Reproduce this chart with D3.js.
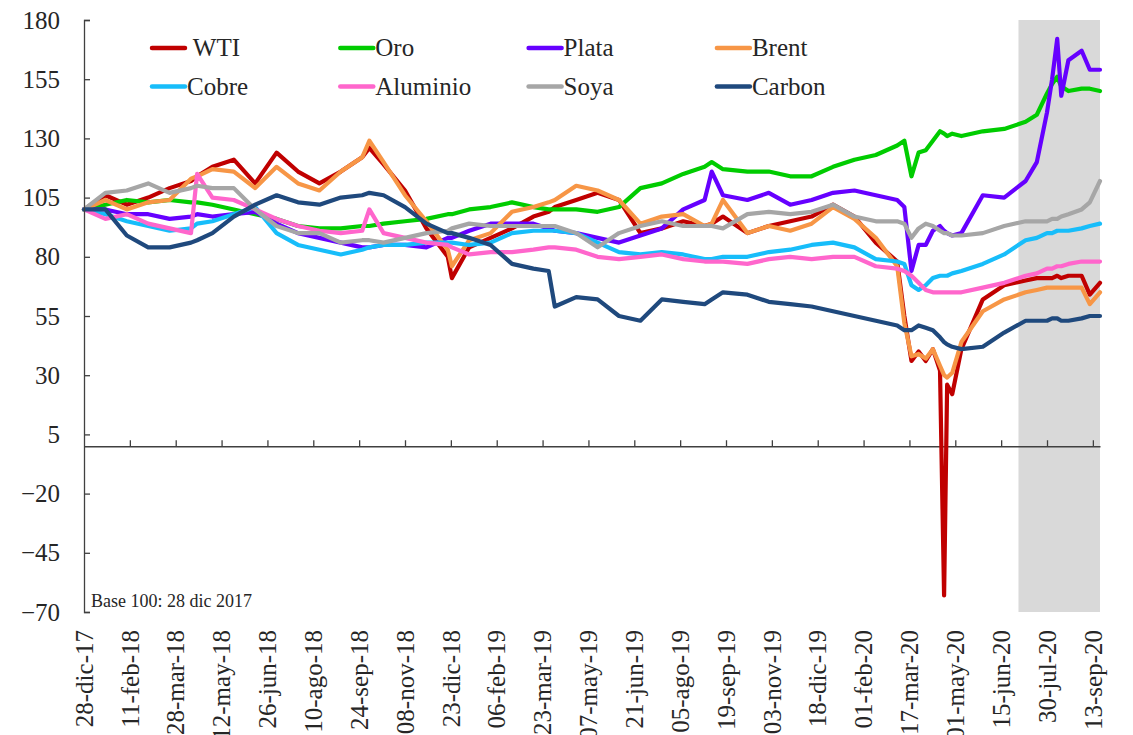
<!DOCTYPE html>
<html>
<head>
<meta charset="utf-8">
<script src="https://cdn.jsdelivr.net/npm/d3@7"></script>
<style>
    body { margin: 0; background: #fff; }
    #commodity-chart svg { font-family: "Liberation Serif", "Times New Roman", serif; }
</style>
</head>
<body>
<div id="commodity-chart"></div>
<script>
// sample dates (same for every series)
var dates = [
    "2017-12-28", "2018-01-18", "2018-02-08", "2018-03-01", "2018-03-22", "2018-04-12", "2018-04-18", "2018-05-03", "2018-05-24", "2018-06-14",
    "2018-07-05", "2018-07-26", "2018-08-16", "2018-09-06", "2018-09-27", "2018-10-04", "2018-10-18", "2018-11-08", "2018-11-29", "2018-12-20",
    "2018-12-24", "2019-01-10", "2019-01-31", "2019-02-21", "2019-03-14", "2019-03-29", "2019-04-04", "2019-04-25", "2019-05-16", "2019-06-06",
    "2019-06-27", "2019-07-18", "2019-08-08", "2019-08-29", "2019-09-05", "2019-09-16", "2019-10-10", "2019-10-31", "2019-11-21", "2019-12-12",
    "2020-01-02", "2020-01-23", "2020-02-13", "2020-03-05", "2020-03-12", "2020-03-19", "2020-03-26", "2020-04-02", "2020-04-09", "2020-04-16",
    "2020-04-20", "2020-04-23", "2020-04-28", "2020-05-07", "2020-05-28", "2020-06-18", "2020-07-09", "2020-07-20", "2020-07-30", "2020-08-04",
    "2020-08-09", "2020-08-13", "2020-08-20", "2020-09-02", "2020-09-10", "2020-09-20"
];

var wti = [
    100, 106, 102, 105, 109, 112, 114, 118, 121, 111,
    124, 116, 111, 116, 122, 126, 119, 108, 92, 80,
    71, 84, 88, 92, 97, 99, 101, 104, 107, 104,
    90, 92, 95, 93, 94, 97, 90, 93, 95, 97,
    102, 97, 86, 78, 55, 36, 40, 36, 41, 32,
    -63, 26, 22, 41, 62, 68, 70, 71, 71, 71,
    72, 71, 72, 72, 64, 69
];
var oro = [
    100, 102, 104, 103, 104, 103, 103, 102, 100, 98,
    96, 93, 92, 92, 93, 93, 94, 95, 96, 98,
    98, 100, 101, 103, 101, 100, 100, 100, 99, 101,
    109, 111, 115, 118, 120, 117, 116, 116, 114, 114,
    118, 121, 123, 127, 129, 114, 124, 125, 129, 133,
    132, 131, 132, 131, 133, 134, 137, 140, 149, 153,
    156, 152, 150, 151, 151, 150
];
var plata = [
    100, 100, 98, 98, 96, 97, 98, 97, 98, 99,
    94, 90, 88, 86, 84, 84, 85, 85, 84, 88,
    88, 91, 94, 94, 94, 92, 91, 90, 88, 86,
    89, 92, 100, 104, 116, 106, 104, 107, 102, 104,
    107, 108, 106, 104, 101, 74, 85, 85, 91, 93,
    91, 90, 89, 90, 106, 105, 112, 120, 141, 155,
    172, 148, 163, 167, 159, 159
];
var brent = [
    100, 104, 100, 103, 104, 113, 114, 117, 116, 109,
    118, 111, 108, 116, 122, 129, 120, 106, 95, 83,
    76, 87, 90, 99, 101, 103, 104, 110, 108, 104,
    94, 97, 98, 93, 94, 104, 90, 93, 91, 94,
    101, 96, 88, 76, 52, 38, 39, 37, 41, 34,
    30, 29, 31, 44, 57, 62, 65, 66, 67, 67,
    67, 67, 67, 67, 60, 65
];
var cobre = [
    100, 98, 95, 93, 91, 92, 94, 95, 98, 101,
    90, 85, 83, 81, 83, 84, 85, 85, 86, 86,
    86, 85, 86, 90, 91, 91, 91, 90, 86, 82,
    81, 82, 81, 79, 79, 80, 80, 82, 83, 85,
    86, 84, 79, 78, 77, 68, 66, 68, 71, 72,
    72, 72, 73, 74, 77, 81, 87, 88, 90, 90,
    91, 91, 91, 92, 93, 94
];
var aluminio = [
    100, 96, 98, 94, 92, 90, 115, 105, 104, 100,
    96, 93, 91, 90, 91, 100, 90, 88, 86, 85,
    84, 81, 82, 82, 83, 84, 84, 83, 80, 79,
    80, 81, 79, 78, 78, 78, 77, 79, 80, 79,
    80, 80, 76, 75, 74, 72, 69, 66, 65, 65,
    65, 65, 65, 65, 67, 69, 72, 73, 75, 75,
    76, 76, 77, 78, 78, 78
];
var soya = [
    100, 107, 108, 111, 107, 109, 110, 109, 109, 100,
    93, 90, 90, 86, 87, 87, 86, 88, 90, 91,
    92, 94, 93, 93, 93, 93, 93, 90, 84, 90,
    93, 95, 93, 93, 93, 92, 98, 99, 98, 99,
    102, 97, 95, 95, 94, 88, 92, 94, 93, 91,
    90, 90, 89, 89, 90, 93, 95, 95, 95, 96,
    96, 97, 98, 100, 103, 112
];
var carbon = [
    100, 100, 89, 84, 84, 86, 87, 90, 97, 102,
    106, 103, 102, 105, 106, 107, 106, 101, 94, 90,
    90, 88, 85, 77, 75, 74, 59, 63, 62, 55,
    53, 62, 61, 60, 62, 65, 64, 61, 60, 59,
    57, 55, 53, 51, 49, 49, 51, 50, 49, 46,
    44, 43, 42, 41, 42, 48, 53, 53, 53, 54,
    54, 53, 53, 54, 55, 55
];

var series_names = ["WTI", "Oro", "Plata", "Brent", "Cobre", "Aluminio", "Soya", "Carbon"];
var series_values = [wti, oro, plata, brent, cobre, aluminio, soya, carbon];
var series_colours = ["#C00000", "#00CC00", "#6600FF", "#F79646", "#17BDFA", "#FF66CC", "#A6A6A6", "#1F497D"];

var y_ticks = [-70, -45, -20, 5, 30, 55, 80, 105, 130, 155, 180];
var x_tick_dates = [
    "2017-12-28", "2018-02-11", "2018-03-28", "2018-05-12", "2018-06-26", "2018-08-10", "2018-09-24", "2018-11-08",
    "2018-12-23", "2019-02-06", "2019-03-23", "2019-05-07", "2019-06-21", "2019-08-05", "2019-09-19", "2019-11-03",
    "2019-12-18", "2020-02-01", "2020-03-17", "2020-05-01", "2020-06-15", "2020-07-30", "2020-09-13"
];
var x_tick_labels = [
    "28-dic-17", "11-feb-18", "28-mar-18", "12-may-18", "26-jun-18", "10-ago-18", "24-sep-18", "08-nov-18",
    "23-dic-18", "06-feb-19", "23-mar-19", "07-may-19", "21-jun-19", "05-ago-19", "19-sep-19", "03-nov-19",
    "18-dic-19", "01-feb-20", "17-mar-20", "01-may-20", "15-jun-20", "30-jul-20", "13-sep-20"
];
var shade_from = "2020-07-02";
var base_note = "Base 100: 28 dic 2017";

function commodities_chart() {
    var width = 1133, height = 735;
    var plot = { left: 84, right: 1100, top: 20, bottom: 612 };
    var parse = d3.timeParse("%Y-%m-%d");

    var svg = d3.select("#commodity-chart")
        .append("svg")
        .attr("width", width)
        .attr("height", height);

    var x = d3.scaleTime()
        .domain([parse(dates[0]), parse(dates[dates.length - 1])])
        .range([plot.left, plot.right]);

    var y = d3.scaleLinear()
        .domain([-70, 180])
        .range([plot.bottom, plot.top]);

    // grey band for the latest period
    svg.append("rect")
        .attr("x", x(parse(shade_from)))
        .attr("y", y(180))
        .attr("width", x(parse(dates[dates.length - 1])) - x(parse(shade_from)))
        .attr("height", y(-70) - y(180))
        .style("fill", "#D9D9D9");

    // zero line with upward ticks
    var tick_dates = x_tick_dates.map(parse);
    svg.append("g")
        .attr("transform", "translate(0," + y(0) + ")")
        .call(d3.axisTop(x).tickValues(tick_dates.slice(1)).tickSize(6).tickSizeOuter(0).tickFormat(""))
        .call(function (g) {
            g.selectAll("line, path").style("stroke", "#404040").style("stroke-width", 1.3);
        });

    // rotated date labels under the plot (the lowest ones run off the page, as in the original)
    svg.append("g")
        .selectAll("text")
        .data(tick_dates)
        .enter()
        .append("text")
        .attr("transform", function (d) { return "translate(" + x(d) + "," + (plot.bottom + 18) + ") rotate(-90)"; })
        .attr("dy", "0.35em")
        .attr("text-anchor", "end")
        .style("font-size", "25px")
        .style("fill", "#262626")
        .text(function (d, i) { return x_tick_labels[i]; });

    // lines
    var line = d3.line()
        .x(function (d) { return x(d.date); })
        .y(function (d) { return y(d.value); });

    series_names.forEach(function (name, i) {
        var pts = dates.map(function (dt, j) {
            return { date: parse(dt), value: series_values[i][j] };
        });
        svg.append("path")
            .datum(pts)
            .attr("d", line)
            .style("fill", "none")
            .style("stroke", series_colours[i])
            .style("stroke-width", 4.2)
            .style("stroke-linejoin", "round")
            .style("stroke-linecap", "round");
    });

    // y axis
    svg.append("g")
        .attr("transform", "translate(" + plot.left + ",0)")
        .call(d3.axisLeft(y).tickValues(y_ticks).tickSizeInner(-6).tickSizeOuter(-6).tickPadding(24))
        .call(function (g) {
            g.selectAll("line, path").style("stroke", "#404040").style("stroke-width", 1.3);
            g.selectAll("text")
                .style("font-size", "25px")
                .style("fill", "#262626")
                .style("font-family", "\"Liberation Serif\", \"Times New Roman\", serif");
        });

    // legend, two rows of four
    var legend = svg.append("g");
    series_names.forEach(function (name, i) {
        var col = i % 4, row = Math.floor(i / 4);
        var lx = 152 + col * 188.3, ly = 48 + row * 38.5;
        legend.append("line")
            .attr("x1", lx).attr("x2", lx + 33)
            .attr("y1", ly).attr("y2", ly)
            .style("stroke", series_colours[i])
            .style("stroke-width", 4.5)
            .style("stroke-linecap", "round");
        legend.append("text")
            .attr("x", lx + 35)
            .attr("y", ly)
            .attr("dy", "0.33em")
            .style("font-size", "25px")
            .style("fill", "#262626")
            .style("white-space", "pre")
            .text(name == "WTI" ? " " + name : name);
    });

    svg.append("text")
        .attr("x", plot.left + 7)
        .attr("y", plot.bottom - 5)
        .style("font-size", "18px")
        .style("fill", "#262626")
        .text(base_note);
}

commodities_chart();
</script>
</body>
</html>
